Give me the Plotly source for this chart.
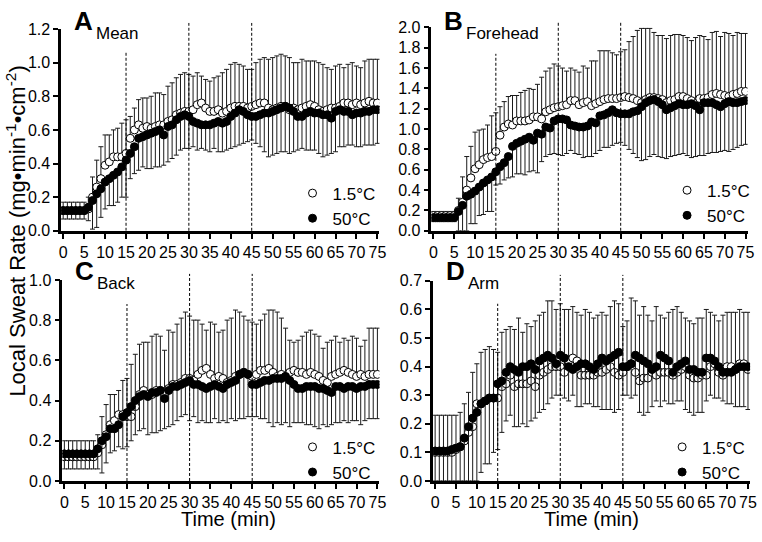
import numpy as np
import plotly.graph_objects as go

# ---------------- data ----------------
time_min = list(range(0, 76))
x_ticks = list(range(0, 80, 5))
series_names = ["1.5°C", "50°C"]
panel_letters = ["A", "B", "C", "D"]
panel_sites = ["Mean", "Forehead", "Back", "Arm"]
y_max = [1.2, 2.0, 1.0, 0.7]
y_step = [0.2, 0.2, 0.2, 0.1]
phase_marks = [15, 30, 45]

# Mean
mean_cold = [0.12,0.12,0.12,0.12,0.12, 0.12,0.13,0.20,0.26,0.31, 0.39,0.41,0.44,0.44,0.44,
             0.46,0.55,0.60,0.63,0.61, 0.62,0.61,0.62,0.63,0.63, 0.65,0.66,0.69,0.70,0.71,
             0.71,0.72,0.75,0.76,0.73, 0.71,0.71,0.72,0.70,0.71, 0.73,0.74,0.74,0.74,0.73,
             0.74,0.75,0.76,0.76,0.73, 0.72,0.73,0.74,0.74,0.72, 0.73,0.72,0.73,0.74,0.75,
             0.74,0.72,0.71,0.72,0.73, 0.73,0.74,0.76,0.76,0.75, 0.76,0.75,0.76,0.77,0.76, 0.76]
mean_hot = [0.12,0.12,0.12,0.12,0.12, 0.12,0.14,0.18,0.22,0.25, 0.29,0.31,0.33,0.35,0.38,
            0.42,0.46,0.50,0.55,0.56, 0.57,0.58,0.59,0.60,0.57, 0.62,0.63,0.66,0.68,0.69,
            0.68,0.65,0.64,0.63,0.63, 0.63,0.64,0.65,0.64,0.65, 0.68,0.70,0.72,0.71,0.69,
            0.68,0.68,0.69,0.70,0.70, 0.71,0.72,0.73,0.74,0.73, 0.71,0.68,0.68,0.70,0.71,
            0.70,0.70,0.69,0.69,0.67, 0.71,0.72,0.71,0.71,0.69, 0.70,0.70,0.71,0.71,0.72, 0.72]
mean_cold_top = [0.17,0.17,0.17,0.17,0.17, 0.17,0.20,0.32,0.42,0.50, 0.57,0.57,0.60,0.61,0.64,
                 0.66,0.68,0.73,0.78,0.79, 0.79,0.80,0.82,0.82,0.81, 0.86,0.88,0.91,0.93,0.94,
                 0.93,0.92,0.94,0.92,0.90, 0.89,0.91,0.92,0.94,0.96, 0.99,1.00,0.99,0.98,0.96,
                 0.96,1.00,1.02,1.03,1.02, 1.03,1.04,1.05,1.04,1.03, 1.00,1.00,1.02,1.01,1.01,
                 1.01,1.00,0.99,0.97,0.96, 0.98,0.99,0.97,0.99,1.00, 0.98,0.97,1.01,1.02,1.02, 1.02]
mean_hot_bottom = [0.07,0.07,0.07,0.07,0.07, 0.07,0.06,0.01,0.02,0.08, 0.13,0.15,0.15,0.17,0.20,
                   0.20,0.31,0.34,0.36,0.38, 0.37,0.37,0.38,0.38,0.39, 0.41,0.43,0.45,0.48,0.49,
                   0.49,0.50,0.48,0.49,0.48, 0.47,0.49,0.47,0.47,0.48, 0.49,0.50,0.51,0.52,0.53,
                   0.54,0.52,0.50,0.47,0.44, 0.45,0.46,0.47,0.47,0.46, 0.47,0.48,0.49,0.48,0.48,
                   0.48,0.46,0.44,0.45,0.46, 0.47,0.50,0.50,0.51,0.51, 0.50,0.50,0.51,0.51,0.51, 0.52]

# Forehead
fore_cold = [0.15,0.15,0.15,0.15,0.15, 0.15,0.20,0.28,0.40,0.52, 0.61,0.65,0.70,0.72,0.73,
             0.78,0.94,1.02,1.05,1.04, 1.08,1.08,1.08,1.09,1.12, 1.12,1.10,1.17,1.19,1.21,
             1.22,1.23,1.24,1.28,1.28, 1.24,1.26,1.27,1.23,1.25, 1.27,1.29,1.30,1.30,1.30,
             1.31,1.32,1.31,1.30,1.28, 1.26,1.29,1.31,1.31,1.30, 1.29,1.26,1.28,1.29,1.32,
             1.32,1.30,1.28,1.25,1.30, 1.30,1.31,1.34,1.35,1.34, 1.33,1.32,1.34,1.35,1.37, 1.37]
fore_hot = [0.13,0.13,0.13,0.13,0.13, 0.13,0.19,0.25,0.34,0.36, 0.39,0.43,0.47,0.50,0.53,
            0.58,0.63,0.67,0.73,0.83, 0.86,0.88,0.90,0.92,0.89, 0.96,0.95,1.02,1.01,1.08,
            1.10,1.10,1.09,1.04,1.03, 1.02,1.02,1.03,1.07,1.06, 1.13,1.14,1.16,1.19,1.16,
            1.15,1.15,1.15,1.17,1.18, 1.22,1.26,1.28,1.29,1.27, 1.24,1.19,1.21,1.23,1.25,
            1.24,1.24,1.25,1.23,1.19, 1.26,1.26,1.26,1.24,1.22, 1.25,1.27,1.26,1.26,1.27, 1.28]
fore_cold_top = [0.19,0.19,0.19,0.19,0.19, 0.19,0.32,0.53,0.73,0.83, 0.97,0.99,1.00,1.04,1.13,
                 1.16,1.22,1.27,1.32,1.33, 1.33,1.36,1.38,1.40,1.39, 1.44,1.51,1.57,1.60,1.64,
                 1.62,1.60,1.57,1.60,1.58, 1.56,1.62,1.60,1.67,1.67, 1.77,1.77,1.77,1.75,1.73,
                 1.76,1.78,1.86,1.91,1.97, 1.99,1.99,1.99,1.95,1.92, 1.92,1.89,1.92,1.93,1.93,
                 1.92,1.90,1.87,1.90,1.92, 1.91,1.88,1.95,1.96,1.91, 1.95,1.94,1.92,1.95,1.94, 1.94]
fore_hot_bottom = [0.09,0.09,0.09,0.09,0.09, 0.09,0.00,0.00,0.00,0.07, 0.07,0.15,0.16,0.19,0.19,
                   0.45,0.46,0.50,0.52,0.53, 0.56,0.56,0.55,0.58,0.59, 0.57,0.68,0.73,0.75,0.76,
                   0.75,0.74,0.76,0.79,0.76, 0.75,0.72,0.73,0.73,0.76, 0.79,0.82,0.82,0.84,0.86,
                   0.87,0.84,0.80,0.76,0.72, 0.69,0.70,0.73,0.75,0.73, 0.72,0.71,0.73,0.74,0.75,
                   0.76,0.74,0.72,0.73,0.74, 0.74,0.76,0.77,0.77,0.78, 0.79,0.78,0.80,0.82,0.84, 0.85]

# Back
back_cold = [0.12,0.12,0.12,0.12,0.12, 0.12,0.12,0.12,0.14,0.18, 0.23,0.28,0.30,0.33,0.33,
             0.32,0.32,0.37,0.43,0.45, 0.43,0.43,0.45,0.45,0.43, 0.46,0.48,0.48,0.49,0.51,
             0.51,0.50,0.53,0.55,0.56, 0.53,0.51,0.52,0.51,0.49, 0.50,0.52,0.53,0.54,0.53,
             0.52,0.53,0.55,0.55,0.56, 0.54,0.52,0.53,0.52,0.54, 0.55,0.54,0.54,0.53,0.54,
             0.53,0.52,0.50,0.49,0.52, 0.53,0.54,0.55,0.54,0.53, 0.52,0.53,0.52,0.53,0.53, 0.53]
back_hot = [0.135,0.135,0.135,0.135,0.135, 0.135,0.135,0.135,0.16,0.20, 0.22,0.26,0.26,0.28,0.32,
            0.34,0.37,0.40,0.42,0.43, 0.42,0.44,0.44,0.45,0.41, 0.45,0.47,0.47,0.48,0.49,
            0.50,0.48,0.48,0.47,0.46, 0.47,0.48,0.47,0.46,0.48, 0.49,0.50,0.53,0.54,0.53,
            0.48,0.48,0.49,0.50,0.50, 0.51,0.51,0.51,0.52,0.50, 0.48,0.46,0.46,0.47,0.47,
            0.47,0.46,0.46,0.45,0.44, 0.47,0.47,0.46,0.47,0.47, 0.46,0.47,0.47,0.48,0.48, 0.48]
back_cold_top = [0.20,0.20,0.20,0.20,0.20, 0.20,0.20,0.20,0.23,0.32, 0.38,0.43,0.43,0.45,0.50,
                 0.51,0.58,0.63,0.68,0.69, 0.69,0.72,0.73,0.72,0.65, 0.75,0.74,0.78,0.81,0.84,
                 0.82,0.80,0.80,0.78,0.75, 0.79,0.78,0.74,0.75,0.80, 0.81,0.85,0.84,0.82,0.80,
                 0.79,0.78,0.80,0.83,0.85, 0.85,0.84,0.81,0.76,0.70, 0.69,0.70,0.72,0.74,0.75,
                 0.73,0.72,0.66,0.69,0.70, 0.72,0.69,0.71,0.70,0.72, 0.71,0.67,0.70,0.76,0.76, 0.76]
back_hot_bottom = [0.06,0.06,0.06,0.06,0.06, 0.06,0.06,0.06,0.06,0.04, 0.09,0.14,0.15,0.17,0.16,
                   0.17,0.20,0.23,0.25,0.26, 0.23,0.24,0.24,0.25,0.26, 0.27,0.28,0.30,0.32,0.33,
                   0.30,0.32,0.29,0.30,0.29, 0.29,0.31,0.29,0.30,0.29, 0.31,0.30,0.31,0.31,0.32,
                   0.32,0.32,0.31,0.31,0.29, 0.27,0.29,0.28,0.29,0.27, 0.29,0.29,0.29,0.28,0.28,
                   0.27,0.26,0.28,0.27,0.28, 0.29,0.29,0.30,0.29,0.30, 0.30,0.28,0.30,0.31,0.31, 0.31]

# Arm
arm_cold = [0.10,0.10,0.10,0.10,0.10, 0.11,0.12,0.14,0.17,0.19, 0.27,0.27,0.28,0.29,0.29,
            0.29,0.33,0.34,0.37,0.33, 0.34,0.34,0.34,0.35,0.33, 0.37,0.38,0.39,0.40,0.40,
            0.40,0.38,0.42,0.43,0.42, 0.37,0.37,0.37,0.37,0.38, 0.38,0.39,0.40,0.38,0.37,
            0.38,0.40,0.41,0.38,0.35, 0.36,0.36,0.38,0.37,0.38, 0.38,0.38,0.37,0.38,0.39,
            0.40,0.37,0.36,0.36,0.37, 0.37,0.40,0.41,0.38,0.37, 0.40,0.40,0.39,0.41,0.41, 0.39]
arm_hot = [0.105,0.105,0.105,0.105,0.11, 0.115,0.12,0.15,0.19,0.22, 0.24,0.27,0.28,0.29,0.29,
           0.34,0.35,0.38,0.40,0.39, 0.38,0.40,0.40,0.41,0.39, 0.42,0.43,0.44,0.43,0.41,
           0.44,0.43,0.40,0.39,0.40, 0.41,0.41,0.40,0.39,0.41, 0.43,0.42,0.43,0.44,0.45,
           0.40,0.40,0.41,0.44,0.43, 0.42,0.41,0.39,0.40,0.44, 0.43,0.42,0.38,0.40,0.41,
           0.42,0.39,0.39,0.38,0.38, 0.43,0.43,0.42,0.40,0.38, 0.38,0.38,0.39,0.40,0.40, 0.40]
arm_cold_top = [0.23,0.23,0.23,0.23,0.23, 0.23,0.24,0.27,0.31,0.38, 0.41,0.45,0.46,0.47,0.46,
                0.45,0.52,0.53,0.54,0.53, 0.57,0.52,0.55,0.54,0.56, 0.58,0.59,0.63,0.63,0.60,
                0.62,0.60,0.60,0.61,0.59, 0.58,0.60,0.59,0.57,0.58, 0.59,0.58,0.61,0.63,0.62,
                0.54,0.56,0.64,0.63,0.58, 0.61,0.58,0.56,0.61,0.58, 0.57,0.59,0.60,0.61,0.59,
                0.57,0.56,0.55,0.57,0.57, 0.60,0.59,0.58,0.56,0.58, 0.59,0.59,0.59,0.60,0.59, 0.59]
arm_hot_bottom = [0.00,0.00,0.00,0.00,0.00, 0.00,0.00,0.00,0.00,0.00, 0.00,0.03,0.06,0.06,0.10,
                  0.11,0.17,0.21,0.23,0.19, 0.19,0.20,0.19,0.21,0.22, 0.24,0.25,0.27,0.29,0.30,
                  0.30,0.29,0.28,0.30,0.26, 0.26,0.27,0.27,0.26,0.26, 0.25,0.25,0.25,0.24,0.25,
                  0.30,0.30,0.29,0.30,0.24, 0.23,0.24,0.26,0.28,0.26, 0.28,0.27,0.27,0.28,0.28,
                  0.25,0.24,0.23,0.24,0.24, 0.28,0.30,0.29,0.29,0.28, 0.27,0.27,0.26,0.26,0.26, 0.25]

# 15-min line top (data units) for each panel
first_mark_top = [1.06, 1.74, 0.88, 0.62]

cold_series = [mean_cold, fore_cold, back_cold, arm_cold]
hot_series = [mean_hot, fore_hot, back_hot, arm_hot]
cold_tops = [mean_cold_top, fore_cold_top, back_cold_top, arm_cold_top]
hot_bottoms = [mean_hot_bottom, fore_hot_bottom, back_hot_bottom, arm_hot_bottom]

# ---------------- layout geometry (pixels) ----------------
W, H = 762, 542
FONT = "Liberation Sans, Arial, sans-serif"
# (left, right, top, bottom) of each plotting area in pixels
boxes = [(59.8, 382.0, 21.7, 230.0),
         (434.5, 754.5, 20.0, 230.0),
         (61.0, 382.0, 280.7, 488.3),
         (436.2, 757.0, 281.7, 488.3)]
letter_y = [13, 13, 271, 271]
site_y = [26, 26, 284, 284]
legend_pos = [(294, 173), (673, 170), (294, 435), (668, 435)]

SUP_O = "<" + "sup" + ">"
SUP_C = "<" + "/sup" + ">"


def fx(p):
    return p / W


def fy(p):
    return 1 - p / H


fig = go.Figure()
layout_axes = {}
shapes = []
annotations = []

for i in range(4):
    n = i + 1
    xa = "x" if n == 1 else "x" + str(n)
    ya = "y" if n == 1 else "y" + str(n)
    leg = "legend" if n == 1 else "legend" + str(n)
    cold = np.array(cold_series[i])
    hot = np.array(hot_series[i])
    up = np.array(cold_tops[i]) - cold
    down = hot - np.array(hot_bottoms[i])
    zeros = np.zeros_like(cold)

    fig.add_trace(go.Scatter(
        x=time_min, y=cold, mode="markers", name=series_names[0],
        xaxis=xa, yaxis=ya, legend=leg,
        marker=dict(symbol="circle", size=8, color="white",
                    line=dict(color="black", width=1)),
        error_y=dict(type="data", symmetric=False, array=up, arrayminus=zeros,
                     color="#1a1a1a", thickness=1, width=2.5),
    ))
    fig.add_trace(go.Scatter(
        x=time_min, y=hot, mode="markers", name=series_names[1],
        xaxis=xa, yaxis=ya, legend=leg,
        marker=dict(symbol="circle", size=8, color="black",
                    line=dict(color="black", width=1)),
        error_y=dict(type="data", symmetric=False, array=zeros, arrayminus=down,
                     color="#1a1a1a", thickness=1, width=2.5),
    ))

    l, r, t, b = boxes[i]
    axis_common = dict(showline=True, linewidth=2.5, linecolor="black", mirror=False,
                       ticks="outside", ticklen=5, tickwidth=2, tickcolor="black",
                       showgrid=False, zeroline=False,
                       tickfont=dict(family=FONT, size=16, color="black"))
    layout_axes["xaxis" if n == 1 else "xaxis" + str(n)] = dict(
        domain=[fx(l), fx(r)], anchor=ya, range=[-0.5, 75.5],
        tickmode="array", tickvals=x_ticks, ticktext=[str(v) for v in x_ticks],
        **axis_common)
    yt = [round(k * y_step[i], 2) for k in range(int(round(y_max[i] / y_step[i])) + 1)]
    layout_axes["yaxis" if n == 1 else "yaxis" + str(n)] = dict(
        domain=[fy(b), fy(t)], anchor=xa, range=[0, y_max[i]],
        tickmode="array", tickvals=yt, ticktext=["%.1f" % v for v in yt],
        **axis_common)

    # dashed phase lines
    for k, m in enumerate(phase_marks):
        if k == 0:
            shapes.append(dict(type="line", xref=xa, yref=ya, x0=m, x1=m,
                               y0=0, y1=first_mark_top[i],
                               line=dict(color="black", width=1, dash="3px,2px")))
        else:
            shapes.append(dict(type="line", xref=xa, yref=ya + " domain", x0=m, x1=m,
                               y0=0, y1=1.03,
                               line=dict(color="black", width=1, dash="3px,2px")))

    # panel letter and site label
    annotations.append(dict(text=panel_letters[i], xref="paper", yref="paper",
                            x=fx(l + 11), y=fy(letter_y[i]), xanchor="left", yanchor="middle",
                            showarrow=False,
                            font=dict(family=FONT, size=26, color="black", weight="bold")))
    annotations.append(dict(text=panel_sites[i], xref="paper", yref="paper",
                            x=fx(l + 33), y=fy(site_y[i]),
                            xanchor="left", yanchor="middle",
                            showarrow=False, font=dict(family=FONT, size=17, color="black")))

    lx, ly = legend_pos[i]
    layout_axes[leg] = dict(x=fx(lx), y=fy(ly), xanchor="left", yanchor="top",
                            bgcolor="rgba(0,0,0,0)", borderwidth=0,
                            font=dict(family=FONT, size=17, color="black"),
                            itemwidth=30, tracegroupgap=0)

# axis titles
annotations.append(dict(text="Local Sweat Rate (mg•min" + SUP_O + "-1" + SUP_C + "•cm"
                        + SUP_O + "-2" + SUP_C + ")",
                        xref="paper", yref="paper", x=fx(14), y=fy(230),
                        xanchor="center", yanchor="middle", textangle=-90,
                        showarrow=False, font=dict(family=FONT, size=22, color="black")))
for cx in [229, 597]:
    annotations.append(dict(text="Time (min)", xref="paper", yref="paper",
                            x=fx(cx), y=fy(528), xanchor="center", yanchor="middle",
                            showarrow=False, font=dict(family=FONT, size=20, color="black")))

fig.update_layout(
    width=W, height=H, margin=dict(l=0, r=0, t=0, b=0),
    paper_bgcolor="white", plot_bgcolor="white",
    font=dict(family=FONT, color="black"),
    shapes=shapes, annotations=annotations, **layout_axes,
)

fig.write_html("out.html",
               config={"displayModeBar": False},
               post_script="document.body.style.margin='0px';"
                           "document.body.style.overflow='hidden';")
